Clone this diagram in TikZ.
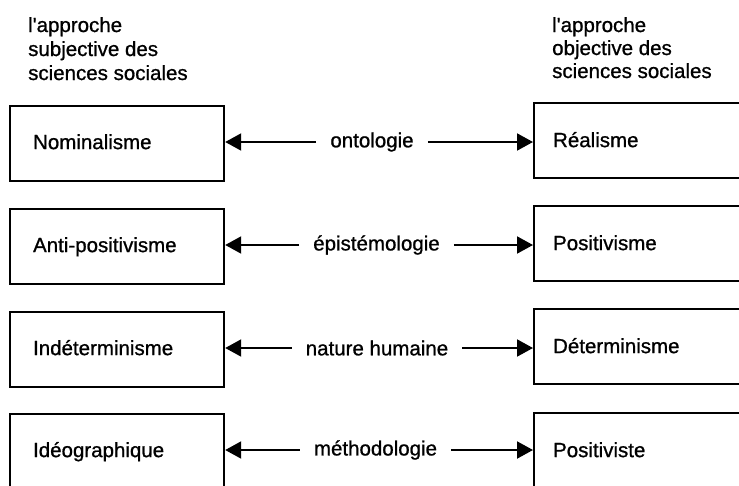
\documentclass[tikz,border=0pt]{standalone}
\usepackage{fontspec}
\setmainfont[FakeBold=0.9]{Liberation Sans}
\usetikzlibrary{arrows.meta}
\begin{document}
\begin{tikzpicture}[x=1pt,y=-1pt,
  every node/.style={font=\fontsize{20.5}{24}\selectfont},
  leftbox/.style={draw, line width=2.2pt, anchor=north west, minimum height=75pt,
    inner xsep=23pt, inner ysep=0pt, text width=168pt, align=left,
    text height=11pt, text depth=0pt},
  rightbox/.style={draw, line width=2.2pt, anchor=north west, minimum height=75pt,
    inner xsep=19pt, inner ysep=0pt, text width=222pt, align=left,
    text height=13pt, text depth=0pt},
  heading/.style={anchor=base west, inner sep=0pt},
  relation/.style={inner xsep=14pt, inner ysep=0pt},
  link/.style={line width=2pt, -{Triangle[length=16pt,width=17pt]}}]
\useasboundingbox (0,0) rectangle (739,485);
\clip (0,0) rectangle (739,485);

% column headings
\node[heading] (hl1) at (28,32) {l\textquotesingle approche};
\node[heading] (hl2) at (28,56) {subjective des};
\node[heading] (hl3) at (28,80) {sciences sociales};
\node[heading] (hr1) at (552,32) {l\textquotesingle approche};
\node[heading] (hr2) at (552,55) {objective des};
\node[heading] (hr3) at (552,78) {sciences sociales};

% subjective side
\node[leftbox] (L1) at (9,105) {Nominalisme};
\node[leftbox] (L2) at (9,208) {Anti-positivisme};
\node[leftbox] (L3) at (9,311) {Indéterminisme};
\node[leftbox] (L4) at (9,413) {Idéographique};

% objective side
\node[rightbox] (R1) at (533,102) {Réalisme};
\node[rightbox] (R2) at (533,205) {Positivisme};
\node[rightbox] (R3) at (533,308) {Déterminisme};
\node[rightbox] (R4) at (533,412) {Positiviste};

% dimensions between the two approaches
\node[relation] (M1) at (372,142) {ontologie};
\node[relation] (M2) at (376.5,245) {épistémologie};
\node[relation] (M3) at (377,348) {nature humaine};
\node[relation] (M4) at (375.5,450) {méthodologie};

\foreach \i in {1,...,4}{
  \draw[link] (M\i.west) -- (M\i.west -| L\i.east);
  \draw[link] (M\i.east) -- (M\i.east -| R\i.west);
}
\end{tikzpicture}
\end{document}
